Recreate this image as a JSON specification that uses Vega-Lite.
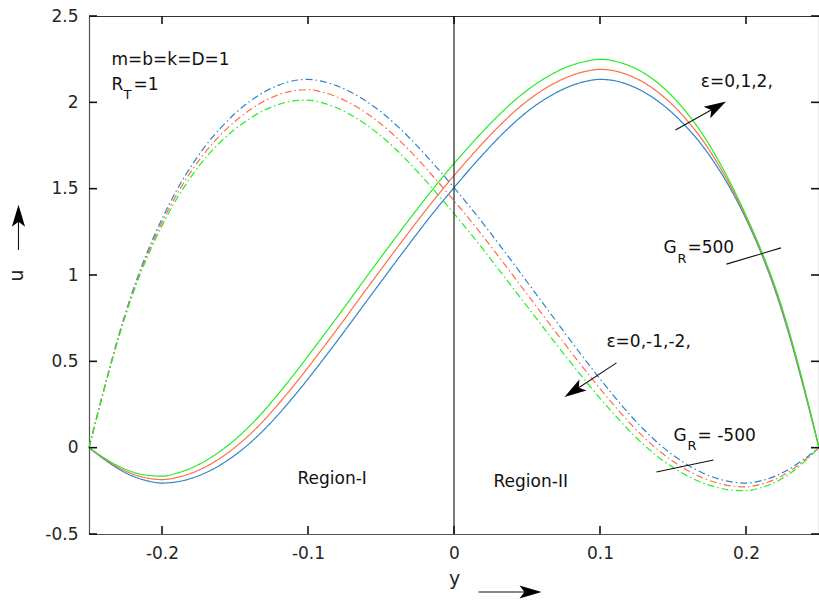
{
  "$schema": "https://vega.github.io/schema/vega-lite/v6.json",
  "width": 730,
  "height": 518,
  "autosize": {"type": "none"},
  "padding": {"left": 89, "top": 16, "right": 0, "bottom": 70},
  "background": "white",
  "config": {
    "view": {"stroke": null},
    "font": "DejaVu Sans",
    "axis": {
      "labelFont": "DejaVu Sans", "labelFontSize": 17, "labelColor": "#262626",
      "domainColor": "#555555", "domainWidth": 1.2,
      "grid": false, "titleFont": "DejaVu Sans", "titleFontSize": 19,
      "titleFontWeight": "normal", "titleColor": "#262626"
    }
  },
  "datasets": {
    "curves": [
      {"G":500,"e":0,"y":-0.25,"u":0},{"G":500,"e":0,"y":-0.24,"u":-0.065},{"G":500,"e":0,"y":-0.23,"u":-0.122},{"G":500,"e":0,"y":-0.22,"u":-0.165},{"G":500,"e":0,"y":-0.21,"u":-0.192},{"G":500,"e":0,"y":-0.2,"u":-0.205},{"G":500,"e":0,"y":-0.19,"u":-0.198},{"G":500,"e":0,"y":-0.18,"u":-0.178},{"G":500,"e":0,"y":-0.17,"u":-0.145},{"G":500,"e":0,"y":-0.16,"u":-0.1},{"G":500,"e":0,"y":-0.15,"u":-0.043},{"G":500,"e":0,"y":-0.14,"u":0.025},{"G":500,"e":0,"y":-0.13,"u":0.105},{"G":500,"e":0,"y":-0.12,"u":0.195},{"G":500,"e":0,"y":-0.11,"u":0.294},{"G":500,"e":0,"y":-0.1,"u":0.398},{"G":500,"e":0,"y":-0.09,"u":0.507},{"G":500,"e":0,"y":-0.08,"u":0.618},{"G":500,"e":0,"y":-0.07,"u":0.732},{"G":500,"e":0,"y":-0.06,"u":0.847},{"G":500,"e":0,"y":-0.05,"u":0.961},{"G":500,"e":0,"y":-0.04,"u":1.075},{"G":500,"e":0,"y":-0.03,"u":1.187},{"G":500,"e":0,"y":-0.02,"u":1.298},{"G":500,"e":0,"y":-0.01,"u":1.404},{"G":500,"e":0,"y":0,"u":1.506},{"G":500,"e":0,"y":0.01,"u":1.605},{"G":500,"e":0,"y":0.02,"u":1.7},{"G":500,"e":0,"y":0.03,"u":1.79},{"G":500,"e":0,"y":0.04,"u":1.872},{"G":500,"e":0,"y":0.05,"u":1.945},{"G":500,"e":0,"y":0.06,"u":2.006},{"G":500,"e":0,"y":0.07,"u":2.056},{"G":500,"e":0,"y":0.08,"u":2.095},{"G":500,"e":0,"y":0.09,"u":2.121},{"G":500,"e":0,"y":0.1,"u":2.133},{"G":500,"e":0,"y":0.11,"u":2.125},{"G":500,"e":0,"y":0.12,"u":2.1},{"G":500,"e":0,"y":0.13,"u":2.06},{"G":500,"e":0,"y":0.14,"u":2.005},{"G":500,"e":0,"y":0.15,"u":1.935},{"G":500,"e":0,"y":0.16,"u":1.85},{"G":500,"e":0,"y":0.17,"u":1.75},{"G":500,"e":0,"y":0.18,"u":1.63},{"G":500,"e":0,"y":0.19,"u":1.49},{"G":500,"e":0,"y":0.2,"u":1.325},{"G":500,"e":0,"y":0.21,"u":1.135},{"G":500,"e":0,"y":0.22,"u":0.91},{"G":500,"e":0,"y":0.23,"u":0.64},{"G":500,"e":0,"y":0.24,"u":0.33},{"G":500,"e":0,"y":0.25,"u":0},

      {"G":500,"e":1,"y":-0.25,"u":0},{"G":500,"e":1,"y":-0.24,"u":-0.061},{"G":500,"e":1,"y":-0.23,"u":-0.114},{"G":500,"e":1,"y":-0.22,"u":-0.153},{"G":500,"e":1,"y":-0.21,"u":-0.176},{"G":500,"e":1,"y":-0.2,"u":-0.185},{"G":500,"e":1,"y":-0.19,"u":-0.173},{"G":500,"e":1,"y":-0.18,"u":-0.148},{"G":500,"e":1,"y":-0.17,"u":-0.11},{"G":500,"e":1,"y":-0.16,"u":-0.06},{"G":500,"e":1,"y":-0.15,"u":0.002},{"G":500,"e":1,"y":-0.14,"u":0.075},{"G":500,"e":1,"y":-0.13,"u":0.16},{"G":500,"e":1,"y":-0.12,"u":0.255},{"G":500,"e":1,"y":-0.11,"u":0.357},{"G":500,"e":1,"y":-0.1,"u":0.464},{"G":500,"e":1,"y":-0.09,"u":0.575},{"G":500,"e":1,"y":-0.08,"u":0.687},{"G":500,"e":1,"y":-0.07,"u":0.802},{"G":500,"e":1,"y":-0.06,"u":0.918},{"G":500,"e":1,"y":-0.05,"u":1.032},{"G":500,"e":1,"y":-0.04,"u":1.146},{"G":500,"e":1,"y":-0.03,"u":1.258},{"G":500,"e":1,"y":-0.02,"u":1.368},{"G":500,"e":1,"y":-0.01,"u":1.474},{"G":500,"e":1,"y":0,"u":1.576},{"G":500,"e":1,"y":0.01,"u":1.673},{"G":500,"e":1,"y":0.02,"u":1.767},{"G":500,"e":1,"y":0.03,"u":1.855},{"G":500,"e":1,"y":0.04,"u":1.936},{"G":500,"e":1,"y":0.05,"u":2.007},{"G":500,"e":1,"y":0.06,"u":2.067},{"G":500,"e":1,"y":0.07,"u":2.116},{"G":500,"e":1,"y":0.08,"u":2.154},{"G":500,"e":1,"y":0.09,"u":2.179},{"G":500,"e":1,"y":0.1,"u":2.191},{"G":500,"e":1,"y":0.11,"u":2.182},{"G":500,"e":1,"y":0.12,"u":2.156},{"G":500,"e":1,"y":0.13,"u":2.115},{"G":500,"e":1,"y":0.14,"u":2.057},{"G":500,"e":1,"y":0.15,"u":1.983},{"G":500,"e":1,"y":0.16,"u":1.892},{"G":500,"e":1,"y":0.17,"u":1.784},{"G":500,"e":1,"y":0.18,"u":1.655},{"G":500,"e":1,"y":0.19,"u":1.506},{"G":500,"e":1,"y":0.2,"u":1.335},{"G":500,"e":1,"y":0.21,"u":1.143},{"G":500,"e":1,"y":0.22,"u":0.92},{"G":500,"e":1,"y":0.23,"u":0.65},{"G":500,"e":1,"y":0.24,"u":0.338},{"G":500,"e":1,"y":0.25,"u":0},

      {"G":500,"e":2,"y":-0.25,"u":0},{"G":500,"e":2,"y":-0.24,"u":-0.057},{"G":500,"e":2,"y":-0.23,"u":-0.106},{"G":500,"e":2,"y":-0.22,"u":-0.141},{"G":500,"e":2,"y":-0.21,"u":-0.16},{"G":500,"e":2,"y":-0.2,"u":-0.165},{"G":500,"e":2,"y":-0.19,"u":-0.148},{"G":500,"e":2,"y":-0.18,"u":-0.118},{"G":500,"e":2,"y":-0.17,"u":-0.075},{"G":500,"e":2,"y":-0.16,"u":-0.02},{"G":500,"e":2,"y":-0.15,"u":0.047},{"G":500,"e":2,"y":-0.14,"u":0.125},{"G":500,"e":2,"y":-0.13,"u":0.215},{"G":500,"e":2,"y":-0.12,"u":0.315},{"G":500,"e":2,"y":-0.11,"u":0.42},{"G":500,"e":2,"y":-0.1,"u":0.53},{"G":500,"e":2,"y":-0.09,"u":0.643},{"G":500,"e":2,"y":-0.08,"u":0.756},{"G":500,"e":2,"y":-0.07,"u":0.872},{"G":500,"e":2,"y":-0.06,"u":0.989},{"G":500,"e":2,"y":-0.05,"u":1.103},{"G":500,"e":2,"y":-0.04,"u":1.217},{"G":500,"e":2,"y":-0.03,"u":1.329},{"G":500,"e":2,"y":-0.02,"u":1.438},{"G":500,"e":2,"y":-0.01,"u":1.544},{"G":500,"e":2,"y":0,"u":1.646},{"G":500,"e":2,"y":0.01,"u":1.741},{"G":500,"e":2,"y":0.02,"u":1.834},{"G":500,"e":2,"y":0.03,"u":1.92},{"G":500,"e":2,"y":0.04,"u":2.0},{"G":500,"e":2,"y":0.05,"u":2.069},{"G":500,"e":2,"y":0.06,"u":2.128},{"G":500,"e":2,"y":0.07,"u":2.176},{"G":500,"e":2,"y":0.08,"u":2.213},{"G":500,"e":2,"y":0.09,"u":2.237},{"G":500,"e":2,"y":0.1,"u":2.249},{"G":500,"e":2,"y":0.11,"u":2.239},{"G":500,"e":2,"y":0.12,"u":2.212},{"G":500,"e":2,"y":0.13,"u":2.17},{"G":500,"e":2,"y":0.14,"u":2.109},{"G":500,"e":2,"y":0.15,"u":2.031},{"G":500,"e":2,"y":0.16,"u":1.934},{"G":500,"e":2,"y":0.17,"u":1.818},{"G":500,"e":2,"y":0.18,"u":1.68},{"G":500,"e":2,"y":0.19,"u":1.522},{"G":500,"e":2,"y":0.2,"u":1.345},{"G":500,"e":2,"y":0.21,"u":1.151},{"G":500,"e":2,"y":0.22,"u":0.93},{"G":500,"e":2,"y":0.23,"u":0.66},{"G":500,"e":2,"y":0.24,"u":0.346},{"G":500,"e":2,"y":0.25,"u":0},

      {"G":-500,"e":0,"y":-0.25,"u":0},{"G":-500,"e":0,"y":-0.24,"u":0.33},{"G":-500,"e":0,"y":-0.23,"u":0.64},{"G":-500,"e":0,"y":-0.22,"u":0.91},{"G":-500,"e":0,"y":-0.21,"u":1.135},{"G":-500,"e":0,"y":-0.2,"u":1.325},{"G":-500,"e":0,"y":-0.19,"u":1.49},{"G":-500,"e":0,"y":-0.18,"u":1.63},{"G":-500,"e":0,"y":-0.17,"u":1.75},{"G":-500,"e":0,"y":-0.16,"u":1.85},{"G":-500,"e":0,"y":-0.15,"u":1.935},{"G":-500,"e":0,"y":-0.14,"u":2.005},{"G":-500,"e":0,"y":-0.13,"u":2.06},{"G":-500,"e":0,"y":-0.12,"u":2.1},{"G":-500,"e":0,"y":-0.11,"u":2.125},{"G":-500,"e":0,"y":-0.1,"u":2.133},{"G":-500,"e":0,"y":-0.09,"u":2.121},{"G":-500,"e":0,"y":-0.08,"u":2.095},{"G":-500,"e":0,"y":-0.07,"u":2.056},{"G":-500,"e":0,"y":-0.06,"u":2.006},{"G":-500,"e":0,"y":-0.05,"u":1.945},{"G":-500,"e":0,"y":-0.04,"u":1.872},{"G":-500,"e":0,"y":-0.03,"u":1.79},{"G":-500,"e":0,"y":-0.02,"u":1.7},{"G":-500,"e":0,"y":-0.01,"u":1.605},{"G":-500,"e":0,"y":0,"u":1.506},{"G":-500,"e":0,"y":0.01,"u":1.404},{"G":-500,"e":0,"y":0.02,"u":1.298},{"G":-500,"e":0,"y":0.03,"u":1.187},{"G":-500,"e":0,"y":0.04,"u":1.075},{"G":-500,"e":0,"y":0.05,"u":0.961},{"G":-500,"e":0,"y":0.06,"u":0.847},{"G":-500,"e":0,"y":0.07,"u":0.732},{"G":-500,"e":0,"y":0.08,"u":0.618},{"G":-500,"e":0,"y":0.09,"u":0.507},{"G":-500,"e":0,"y":0.1,"u":0.398},{"G":-500,"e":0,"y":0.11,"u":0.294},{"G":-500,"e":0,"y":0.12,"u":0.195},{"G":-500,"e":0,"y":0.13,"u":0.105},{"G":-500,"e":0,"y":0.14,"u":0.025},{"G":-500,"e":0,"y":0.15,"u":-0.043},{"G":-500,"e":0,"y":0.16,"u":-0.1},{"G":-500,"e":0,"y":0.17,"u":-0.145},{"G":-500,"e":0,"y":0.18,"u":-0.178},{"G":-500,"e":0,"y":0.19,"u":-0.198},{"G":-500,"e":0,"y":0.2,"u":-0.205},{"G":-500,"e":0,"y":0.21,"u":-0.192},{"G":-500,"e":0,"y":0.22,"u":-0.165},{"G":-500,"e":0,"y":0.23,"u":-0.122},{"G":-500,"e":0,"y":0.24,"u":-0.065},{"G":-500,"e":0,"y":0.25,"u":0},

      {"G":-500,"e":-1,"y":-0.25,"u":0},{"G":-500,"e":-1,"y":-0.24,"u":0.327},{"G":-500,"e":-1,"y":-0.23,"u":0.634},{"G":-500,"e":-1,"y":-0.22,"u":0.9},{"G":-500,"e":-1,"y":-0.21,"u":1.12},{"G":-500,"e":-1,"y":-0.2,"u":1.305},{"G":-500,"e":-1,"y":-0.19,"u":1.465},{"G":-500,"e":-1,"y":-0.18,"u":1.6},{"G":-500,"e":-1,"y":-0.17,"u":1.715},{"G":-500,"e":-1,"y":-0.16,"u":1.81},{"G":-500,"e":-1,"y":-0.15,"u":1.89},{"G":-500,"e":-1,"y":-0.14,"u":1.955},{"G":-500,"e":-1,"y":-0.13,"u":2.007},{"G":-500,"e":-1,"y":-0.12,"u":2.044},{"G":-500,"e":-1,"y":-0.11,"u":2.067},{"G":-500,"e":-1,"y":-0.1,"u":2.073},{"G":-500,"e":-1,"y":-0.09,"u":2.059},{"G":-500,"e":-1,"y":-0.08,"u":2.031},{"G":-500,"e":-1,"y":-0.07,"u":1.99},{"G":-500,"e":-1,"y":-0.06,"u":1.938},{"G":-500,"e":-1,"y":-0.05,"u":1.875},{"G":-500,"e":-1,"y":-0.04,"u":1.801},{"G":-500,"e":-1,"y":-0.03,"u":1.717},{"G":-500,"e":-1,"y":-0.02,"u":1.626},{"G":-500,"e":-1,"y":-0.01,"u":1.53},{"G":-500,"e":-1,"y":0,"u":1.431},{"G":-500,"e":-1,"y":0.01,"u":1.329},{"G":-500,"e":-1,"y":0.02,"u":1.223},{"G":-500,"e":-1,"y":0.03,"u":1.113},{"G":-500,"e":-1,"y":0.04,"u":1.002},{"G":-500,"e":-1,"y":0.05,"u":0.89},{"G":-500,"e":-1,"y":0.06,"u":0.778},{"G":-500,"e":-1,"y":0.07,"u":0.666},{"G":-500,"e":-1,"y":0.08,"u":0.555},{"G":-500,"e":-1,"y":0.09,"u":0.447},{"G":-500,"e":-1,"y":0.1,"u":0.342},{"G":-500,"e":-1,"y":0.11,"u":0.242},{"G":-500,"e":-1,"y":0.12,"u":0.147},{"G":-500,"e":-1,"y":0.13,"u":0.061},{"G":-500,"e":-1,"y":0.14,"u":-0.015},{"G":-500,"e":-1,"y":0.15,"u":-0.079},{"G":-500,"e":-1,"y":0.16,"u":-0.132},{"G":-500,"e":-1,"y":0.17,"u":-0.174},{"G":-500,"e":-1,"y":0.18,"u":-0.204},{"G":-500,"e":-1,"y":0.19,"u":-0.222},{"G":-500,"e":-1,"y":0.2,"u":-0.227},{"G":-500,"e":-1,"y":0.21,"u":-0.212},{"G":-500,"e":-1,"y":0.22,"u":-0.183},{"G":-500,"e":-1,"y":0.23,"u":-0.136},{"G":-500,"e":-1,"y":0.24,"u":-0.073},{"G":-500,"e":-1,"y":0.25,"u":0},

      {"G":-500,"e":-2,"y":-0.25,"u":0},{"G":-500,"e":-2,"y":-0.24,"u":0.324},{"G":-500,"e":-2,"y":-0.23,"u":0.628},{"G":-500,"e":-2,"y":-0.22,"u":0.89},{"G":-500,"e":-2,"y":-0.21,"u":1.105},{"G":-500,"e":-2,"y":-0.2,"u":1.285},{"G":-500,"e":-2,"y":-0.19,"u":1.44},{"G":-500,"e":-2,"y":-0.18,"u":1.57},{"G":-500,"e":-2,"y":-0.17,"u":1.68},{"G":-500,"e":-2,"y":-0.16,"u":1.77},{"G":-500,"e":-2,"y":-0.15,"u":1.845},{"G":-500,"e":-2,"y":-0.14,"u":1.905},{"G":-500,"e":-2,"y":-0.13,"u":1.954},{"G":-500,"e":-2,"y":-0.12,"u":1.988},{"G":-500,"e":-2,"y":-0.11,"u":2.009},{"G":-500,"e":-2,"y":-0.1,"u":2.013},{"G":-500,"e":-2,"y":-0.09,"u":1.997},{"G":-500,"e":-2,"y":-0.08,"u":1.967},{"G":-500,"e":-2,"y":-0.07,"u":1.924},{"G":-500,"e":-2,"y":-0.06,"u":1.87},{"G":-500,"e":-2,"y":-0.05,"u":1.805},{"G":-500,"e":-2,"y":-0.04,"u":1.73},{"G":-500,"e":-2,"y":-0.03,"u":1.644},{"G":-500,"e":-2,"y":-0.02,"u":1.552},{"G":-500,"e":-2,"y":-0.01,"u":1.455},{"G":-500,"e":-2,"y":0,"u":1.356},{"G":-500,"e":-2,"y":0.01,"u":1.254},{"G":-500,"e":-2,"y":0.02,"u":1.148},{"G":-500,"e":-2,"y":0.03,"u":1.039},{"G":-500,"e":-2,"y":0.04,"u":0.929},{"G":-500,"e":-2,"y":0.05,"u":0.819},{"G":-500,"e":-2,"y":0.06,"u":0.709},{"G":-500,"e":-2,"y":0.07,"u":0.6},{"G":-500,"e":-2,"y":0.08,"u":0.492},{"G":-500,"e":-2,"y":0.09,"u":0.387},{"G":-500,"e":-2,"y":0.1,"u":0.286},{"G":-500,"e":-2,"y":0.11,"u":0.19},{"G":-500,"e":-2,"y":0.12,"u":0.099},{"G":-500,"e":-2,"y":0.13,"u":0.017},{"G":-500,"e":-2,"y":0.14,"u":-0.055},{"G":-500,"e":-2,"y":0.15,"u":-0.115},{"G":-500,"e":-2,"y":0.16,"u":-0.164},{"G":-500,"e":-2,"y":0.17,"u":-0.203},{"G":-500,"e":-2,"y":0.18,"u":-0.23},{"G":-500,"e":-2,"y":0.19,"u":-0.246},{"G":-500,"e":-2,"y":0.2,"u":-0.249},{"G":-500,"e":-2,"y":0.21,"u":-0.232},{"G":-500,"e":-2,"y":0.22,"u":-0.201},{"G":-500,"e":-2,"y":0.23,"u":-0.15},{"G":-500,"e":-2,"y":0.24,"u":-0.081},{"G":-500,"e":-2,"y":0.25,"u":0}
    ],
    "tickmarks": [
      {"y":-0.2,"u":-0.5,"y2":-0.2,"u2":-0.4537},{"y":-0.1,"u":-0.5,"y2":-0.1,"u2":-0.4537},{"y":0,"u":-0.5,"y2":0,"u2":-0.4537},{"y":0.1,"u":-0.5,"y2":0.1,"u2":-0.4537},{"y":0.2,"u":-0.5,"y2":0.2,"u2":-0.4537},
      {"y":-0.2,"u":2.5,"y2":-0.2,"u2":2.4537},{"y":-0.1,"u":2.5,"y2":-0.1,"u2":2.4537},{"y":0,"u":2.5,"y2":0,"u2":2.4537},{"y":0.1,"u":2.5,"y2":0.1,"u2":2.4537},{"y":0.2,"u":2.5,"y2":0.2,"u2":2.4537},
      {"y":-0.25,"u":-0.5,"y2":-0.2445,"u2":-0.5},{"y":-0.25,"u":0,"y2":-0.2445,"u2":0},{"y":-0.25,"u":0.5,"y2":-0.2445,"u2":0.5},{"y":-0.25,"u":1,"y2":-0.2445,"u2":1},{"y":-0.25,"u":1.5,"y2":-0.2445,"u2":1.5},{"y":-0.25,"u":2,"y2":-0.2445,"u2":2},{"y":-0.25,"u":2.5,"y2":-0.2445,"u2":2.5},
      {"y":0.25,"u":-0.5,"y2":0.2445,"u2":-0.5},{"y":0.25,"u":0,"y2":0.2445,"u2":0},{"y":0.25,"u":0.5,"y2":0.2445,"u2":0.5},{"y":0.25,"u":1,"y2":0.2445,"u2":1},{"y":0.25,"u":1.5,"y2":0.2445,"u2":1.5},{"y":0.25,"u":2,"y2":0.2445,"u2":2},{"y":0.25,"u":2.5,"y2":0.2445,"u2":2.5}
    ],
    "segs": [
      {"name":"GR500 marker","y":0.1866,"u":1.063,"y2":0.224,"u2":1.157},
      {"name":"GR-500 marker","y":0.1387,"u":-0.141,"y2":0.1777,"u2":-0.071},
      {"name":"eps up arrow","y":0.1517,"u":1.84,"y2":0.1798,"u2":1.973},
      {"name":"eps down arrow","y":0.1113,"u":0.491,"y2":0.082,"u2":0.3285},
      {"name":"x arrow","y":0.0168,"u":-0.836,"y2":0.0524,"u2":-0.836},
      {"name":"u arrow","y":-0.2983,"u":1.145,"y2":-0.2983,"u2":1.343}
    ],
    "labels": [
      {"t":"m=b=k=D=1","y":-0.2346,"u":2.217},
      {"t":"R","y":-0.2346,"u":2.072},
      {"t":"=1","y":-0.2195,"u":2.072},
      {"t":"ε=0,1,2,","y":0.169,"u":2.09},
      {"t":"G","y":0.1435,"u":1.128},
      {"t":"=500","y":0.1599,"u":1.128},
      {"t":"ε=0,-1,-2,","y":0.1044,"u":0.583},
      {"t":"G","y":0.1503,"u":0.039},
      {"t":"= -500","y":0.1668,"u":0.039},
      {"t":"Region-I","y":-0.1072,"u":-0.2108},
      {"t":"Region-II","y":0.0271,"u":-0.228}
    ],
    "subs": [
      {"t":"T","y":-0.2264,"u":2.02},
      {"t":"R","y":0.1531,"u":1.07},
      {"t":"R","y":0.1599,"u":-0.0133}
    ]
  },
  "layer": [
    {
      "data": {"name": "curves"},
      "mark": {"type": "line", "strokeWidth": 1.2, "interpolate": "monotone"},
      "encoding": {
        "x": {"field": "y", "type": "quantitative", "scale": {"domain": [-0.25, 0.25], "nice": false, "zero": false},
              "axis": {"orient": "bottom", "values": [-0.2, -0.1, 0, 0.1, 0.2], "labelExpr": "'' + datum.value", "ticks": false, "tickSize": 0, "labelPadding": 11, "title": "y", "titlePadding": 8}},
        "y": {"field": "u", "type": "quantitative", "scale": {"domain": [-0.5, 2.5], "nice": false, "zero": false},
              "axis": {"orient": "left", "values": [-0.5, 0, 0.5, 1, 1.5, 2, 2.5], "labelExpr": "'' + datum.value", "ticks": false, "tickSize": 0, "labelPadding": 11, "title": "u", "titlePadding": 18}},
        "color": {"field": "e", "type": "nominal", "scale": {"domain": [0, 1, 2, -1, -2], "range": ["#2f83c8", "#ff6e46", "#22ee22", "#ff6e46", "#22ee22"]}, "legend": null},
        "strokeDash": {"field": "G", "type": "nominal", "scale": {"domain": [500, -500], "range": [[1, 0], [7, 3, 1.5, 3]]}, "legend": null}
      }
    },
    {
      "data": {"values": [{"y": 0, "u": -0.5, "u2": 2.5}]},
      "mark": {"type": "rule", "color": "#333333", "strokeWidth": 1.3},
      "encoding": {
        "x": {"field": "y", "type": "quantitative", "axis": {"orient": "top", "values": [-0.2, -0.1, 0, 0.1, 0.2], "labels": false, "ticks": false, "title": null, "domainColor": "#333333"}},
        "y": {"field": "u", "type": "quantitative", "axis": {"orient": "right", "values": [-0.5, 0, 0.5, 1, 1.5, 2, 2.5], "labels": false, "ticks": false, "title": null, "domainColor": "#333333"}},
        "y2": {"field": "u2"}
      }
    },
    {
      "data": {"name": "tickmarks"},
      "mark": {"type": "rule", "color": "#111111", "strokeWidth": 1.6},
      "encoding": {
        "x": {"field": "y", "type": "quantitative", "axis": null},
        "y": {"field": "u", "type": "quantitative", "axis": null},
        "x2": {"field": "y2"},
        "y2": {"field": "u2"}
      }
    },
    {
      "data": {"name": "segs"},
      "mark": {"type": "rule", "color": "#111111", "strokeWidth": 1.1},
      "encoding": {
        "x": {"field": "y", "type": "quantitative", "axis": null},
        "y": {"field": "u", "type": "quantitative", "axis": null},
        "x2": {"field": "y2"},
        "y2": {"field": "u2"}
      }
    },
    {
      "data": {"values": [{"y": 0.1798, "u": 1.973}]},
      "mark": {"type": "point", "filled": true, "color": "#000000", "opacity": 1, "size": 484, "angle": 60, "shape": "M0,-1L0.6,1L0,0.55L-0.6,1Z"},
      "encoding": {"x": {"field": "y", "type": "quantitative", "axis": null}, "y": {"field": "u", "type": "quantitative", "axis": null}}
    },
    {
      "data": {"values": [{"y": 0.082, "u": 0.3285}]},
      "mark": {"type": "point", "filled": true, "color": "#000000", "opacity": 1, "size": 484, "angle": 237, "shape": "M0,-1L0.6,1L0,0.55L-0.6,1Z"},
      "encoding": {"x": {"field": "y", "type": "quantitative", "axis": null}, "y": {"field": "u", "type": "quantitative", "axis": null}}
    },
    {
      "data": {"values": [{"y": 0.0524, "u": -0.836}]},
      "mark": {"type": "point", "filled": true, "color": "#000000", "opacity": 1, "size": 484, "angle": 90, "shape": "M0,-1L0.6,1L0,0.55L-0.6,1Z"},
      "encoding": {"x": {"field": "y", "type": "quantitative", "axis": null}, "y": {"field": "u", "type": "quantitative", "axis": null}}
    },
    {
      "data": {"values": [{"y": -0.2983, "u": 1.343}]},
      "mark": {"type": "point", "filled": true, "color": "#000000", "opacity": 1, "size": 484, "angle": 0, "shape": "M0,-1L0.6,1L0,0.55L-0.6,1Z"},
      "encoding": {"x": {"field": "y", "type": "quantitative", "axis": null}, "y": {"field": "u", "type": "quantitative", "axis": null}}
    },
    {
      "data": {"name": "labels"},
      "mark": {"type": "text", "align": "left", "baseline": "alphabetic", "font": "DejaVu Sans", "fontSize": 17, "color": "#111111"},
      "encoding": {"x": {"field": "y", "type": "quantitative", "axis": null}, "y": {"field": "u", "type": "quantitative", "axis": null}, "text": {"field": "t"}}
    },
    {
      "data": {"name": "subs"},
      "mark": {"type": "text", "align": "left", "baseline": "alphabetic", "font": "DejaVu Sans", "fontSize": 13, "color": "#111111"},
      "encoding": {"x": {"field": "y", "type": "quantitative", "axis": null}, "y": {"field": "u", "type": "quantitative", "axis": null}, "text": {"field": "t"}}
    }
  ],
  "resolve": {"axis": {"x": "independent", "y": "independent"}}
}
